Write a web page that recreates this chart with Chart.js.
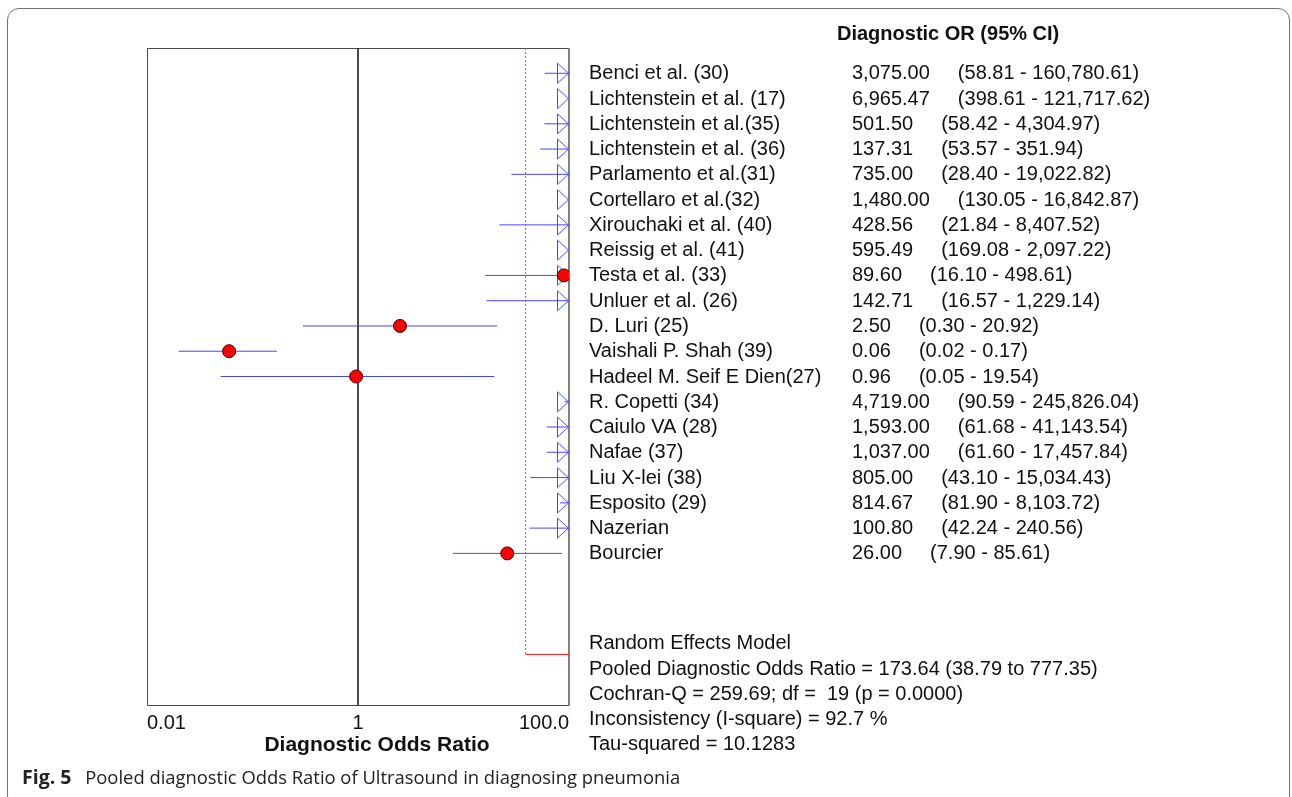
<!DOCTYPE html>
<html>
<head>
<meta charset="utf-8">
<title>Pooled diagnostic Odds Ratio</title>
<script src="https://cdn.jsdelivr.net/npm/chart.js@4.4.1/dist/chart.umd.min.js"></script>
<style>
  html, body { margin: 0; padding: 0; background: #fff; }
  body { width: 1292px; height: 797px; position: relative; overflow: hidden; }
  #frame { position: absolute; left: 7px; top: 8px; width: 1283px; height: 800px; border: 1.5px solid #707070; border-radius: 12px; box-sizing: border-box; }
  #forest { position: absolute; left: 0; top: 0; }
  #caption { position: absolute; left: 22px; top: 763px; font-family: "Open Sans", "Noto Sans", sans-serif; font-size: 18.4px; color: #222; white-space: nowrap; }
  #caption b { font-size: 19.5px; margin-right: 9px; }
</style>
</head>
<body>
<div id="frame"></div>
<canvas id="forest" width="1292" height="797"></canvas>
<div id="caption"><b>Fig. 5</b> Pooled diagnostic Odds Ratio of Ultrasound in diagnosing pneumonia</div>
<script>
// Données des études
const studies = ["Benci et al. (30)", "Lichtenstein et al. (17)", "Lichtenstein et al.(35)", "Lichtenstein et al. (36)",
  "Parlamento et al.(31)", "Cortellaro et al.(32)", "Xirouchaki et al. (40)", "Reissig et al. (41)", "Testa et al. (33)",
  "Unluer et al. (26)", "D. Luri (25)", "Vaishali P. Shah (39)", "Hadeel M. Seif E Dien(27)", "R. Copetti (34)",
  "Caiulo VA (28)", "Nafae (37)", "Liu X-lei (38)", "Esposito (29)", "Nazerian", "Bourcier"]
const dor = [3075.00, 6965.47, 501.50, 137.31, 735.00, 1480.00, 428.56, 595.49, 89.60, 142.71,
  2.50, 0.06, 0.96, 4719.00, 1593.00, 1037.00, 805.00, 814.67, 100.80, 26.00]
const ciLow = [58.81, 398.61, 58.42, 53.57, 28.40, 130.05, 21.84, 169.08, 16.10, 16.57,
  0.30, 0.02, 0.05, 90.59, 61.68, 61.60, 43.10, 81.90, 42.24, 7.90]
const ciHigh = [160780.61, 121717.62, 4304.97, 351.94, 19022.82, 16842.87, 8407.52, 2097.22, 498.61, 1229.14,
  20.92, 0.17, 19.54, 245826.04, 41143.54, 17457.84, 15034.43, 8103.72, 240.56, 85.61]

// Modèle à effets aléatoires
const pooledOR = 173.64
const pooledLow = 38.79
const pooledHigh = 777.35
const summaryLines = [
  "Random Effects Model",
  "Pooled Diagnostic Odds Ratio = 173.64 (38.79 to 777.35)",
  "Cochran-Q = 259.69; df =  19 (p = 0.0000)",
  "Inconsistency (I-square) = 92.7 %",
  "Tau-squared = 10.1283"
]

// Axe
const xMin = 0.01
const xMax = 100
const xTicks = [0.01, 1, 100]
const xTickLabels = ["0.01", "1", "100.0"]

const FONT = '"Liberation Sans", Arial, sans-serif'
const BLUE = "rgb(70,70,255)"

function fmt(v) {
  return v.toLocaleString("en-US", { minimumFractionDigits: 2, maximumFractionDigits: 2 })
}

// Flèche (triangle vide) pour les IC hors échelle
function makeArrow() {
  const c = document.createElement("canvas")
  c.width = 26
  c.height = 22
  const g = c.getContext("2d")
  g.strokeStyle = BLUE
  g.lineWidth = 1
  g.beginPath()
  g.moveTo(1.5, 1)
  g.lineTo(12.5, 11)
  g.lineTo(1.5, 21)
  g.closePath()
  g.stroke()
  return c
}

// Segments des IC (séparés par des trous)
const ciSegments = []
studies.forEach((s, i) => {
  ciSegments.push({ x: ciLow[i], y: i }, { x: ciHigh[i], y: i }, { x: null, y: i })
})
const dots = []
const arrows = []
studies.forEach((s, i) => {
  if (dor[i] <= xMax) dots.push({ x: dor[i], y: i })
  if (ciHigh[i] > xMax) arrows.push({ x: xMax, y: i })
})
const pooledRow = studies.length + 3

const forestText = {
  id: "forestText",
  beforeDatasetsDraw(chart) {
    const ctx = chart.ctx
    const a = chart.chartArea
    ctx.save()
    ctx.strokeStyle = "#4a4a4a"
    ctx.lineWidth = 1
    ctx.beginPath()
    ctx.moveTo(Math.round(a.right), a.top + 0.5)
    ctx.lineTo(a.left + 0.5, a.top + 0.5)
    ctx.lineTo(a.left + 0.5, a.bottom + 0.5)
    ctx.lineTo(Math.round(a.right), a.bottom + 0.5)
    ctx.stroke()
    ctx.strokeStyle = "#808080"
    ctx.lineWidth = 2
    ctx.beginPath()
    ctx.moveTo(Math.round(a.right), a.top)
    ctx.lineTo(Math.round(a.right), a.bottom + 1)
    ctx.stroke()
    ctx.restore()
  },
  afterDraw(chart) {
    const ctx = chart.ctx
    const y = chart.scales.y
    ctx.save()
    ctx.fillStyle = "#111"
    ctx.textBaseline = "middle"
    ctx.textAlign = "left"
    ctx.font = "bold 20px " + FONT
    ctx.fillText("Diagnostic OR (95% CI)", 837, 34)
    ctx.font = "20px " + FONT
    studies.forEach((s, i) => {
      const py = y.getPixelForValue(i) + 0.5
      const orText = fmt(dor[i])
      ctx.fillText(s, 589, py)
      ctx.fillText(orText, 852, py)
      const ciX = 852 + ctx.measureText(orText).width + 28
      ctx.fillText("(" + fmt(ciLow[i]) + " - " + fmt(ciHigh[i]) + ")", ciX, py)
    })
    summaryLines.forEach((t, k) => {
      ctx.fillText(t, 589, y.getPixelForValue(pooledRow - 0.42 + k))
    })
    ctx.textAlign = "center"
    ctx.font = "bold 21px " + FONT
    ctx.fillText("Diagnostic Odds Ratio", 377, 745)
    ctx.restore()
  }
}

new Chart(document.getElementById("forest"), {
  type: "scatter",
  data: {
    datasets: [
      {
        label: "DOR",
        data: dots,
        order: 0,
        pointRadius: 6.5,
        backgroundColor: "#ff0000",
        borderColor: "#3a0000",
        borderWidth: 1
      },
      {
        label: "arrows",
        data: arrows,
        order: 1,
        pointStyle: makeArrow(),
        pointRadius: 6,
        clip: false
      },
      {
        label: "CI",
        data: ciSegments,
        order: 2,
        showLine: true,
        spanGaps: false,
        pointRadius: 0,
        borderColor: BLUE,
        borderWidth: 1
      },
      {
        label: "pooled",
        data: [{ x: pooledLow, y: pooledRow }, { x: pooledHigh, y: pooledRow }],
        order: 3,
        showLine: true,
        pointRadius: 0,
        borderColor: "#ff2020",
        borderWidth: 1
      },
      {
        label: "pooled line",
        data: [{ x: pooledLow, y: -1 }, { x: pooledLow, y: pooledRow }],
        order: 4,
        showLine: true,
        pointRadius: 0,
        borderColor: "#ff4040",
        borderDash: [2, 2],
        borderWidth: 1
      },
      {
        label: "no effect",
        data: [{ x: 1, y: -1 }, { x: 1, y: studies.length + 5 }],
        order: 5,
        showLine: true,
        pointRadius: 0,
        borderColor: "#333",
        borderWidth: 1
      }
    ]
  },
  options: {
    responsive: false,
    animation: false,
    events: [],
    layout: { padding: { left: 147, right: 723, top: 48, bottom: 52 } },
    plugins: { legend: { display: false }, tooltip: { enabled: false } },
    scales: {
      x: {
        type: "logarithmic",
        min: xMin,
        max: xMax,
        grid: { display: false, drawTicks: false },
        border: { display: false },
        afterBuildTicks: (axis) => { axis.ticks = xTicks.map(v => ({ value: v })) },
        afterFit: (axis) => { axis.height = 40 },
        ticks: {
          autoSkip: false,
          maxRotation: 0,
          align: "inner",
          padding: 6,
          color: "#111",
          font: { family: FONT, size: 20 },
          callback: (value, index) => xTickLabels[index]
        }
      },
      y: {
        type: "linear",
        display: false,
        reverse: true,
        min: -1,
        max: studies.length + 5
      }
    }
  },
  plugins: [forestText]
})
</script>
</body>
</html>
